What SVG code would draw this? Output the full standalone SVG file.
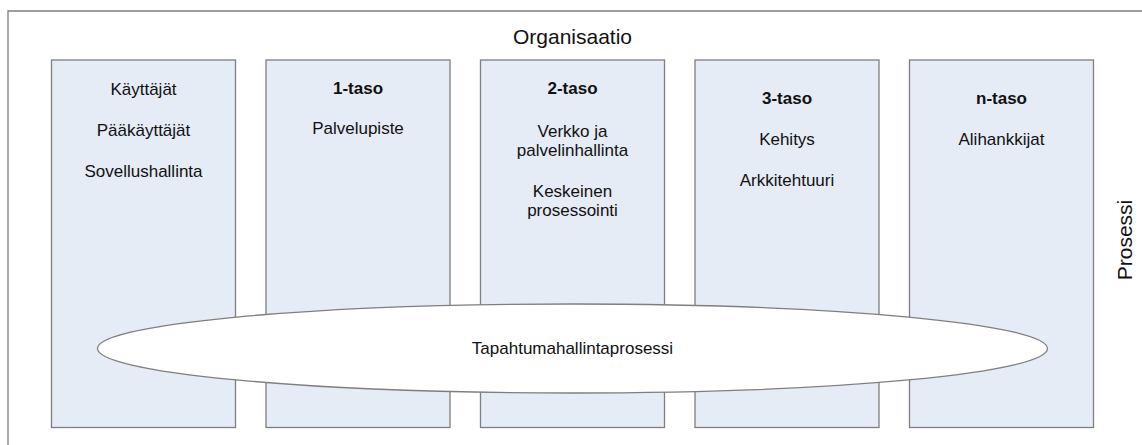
<svg xmlns="http://www.w3.org/2000/svg" width="1142" height="445" viewBox="0 0 1142 445">
  <style>
    .frame { fill: none; stroke: #808080; stroke-width: 1.3; }
    .col { fill: #e6ecf6; stroke: #7f7f7f; stroke-width: 1.3; }
    .oval { fill: #ffffff; stroke: #7f7f7f; stroke-width: 1.3; }
    text { font-family: "Liberation Sans", Arial, sans-serif; fill: #111111; text-anchor: middle; }
    .lbl { font-size: 17px; }
    .hd { font-size: 17px; font-weight: bold; }
    .big { font-size: 21px; }
  </style>

  <!-- outer frame: only left and top edges are drawn -->
  <path class="frame" d="M8,445 V11 H1142"/>

  <text id="title" class="big" x="572.5" y="44">Organisaatio</text>

  <g id="col-users">
    <rect class="col" x="51.5" y="60" width="184" height="367.5"/>
    <text class="lbl" x="143.5" y="95">Käyttäjät</text>
    <text class="lbl" x="143.5" y="136">Pääkäyttäjät</text>
    <text class="lbl" x="143.5" y="177">Sovellushallinta</text>
  </g>

  <g id="col-level1">
    <rect class="col" x="266" y="60" width="184" height="367.5"/>
    <text class="hd" x="358" y="94">1-taso</text>
    <text class="lbl" x="358" y="134">Palvelupiste</text>
  </g>

  <g id="col-level2">
    <rect class="col" x="480.5" y="60" width="184" height="367.5"/>
    <text class="hd" x="572.5" y="94">2-taso</text>
    <text class="lbl" x="572.5" y="137">Verkko ja</text>
    <text class="lbl" x="572.5" y="156">palvelinhallinta</text>
    <text class="lbl" x="572.5" y="197">Keskeinen</text>
    <text class="lbl" x="572.5" y="216">prosessointi</text>
  </g>

  <g id="col-level3">
    <rect class="col" x="695" y="60" width="184" height="367.5"/>
    <text class="hd" x="787" y="104">3-taso</text>
    <text class="lbl" x="787" y="145">Kehitys</text>
    <text class="lbl" x="787" y="186">Arkkitehtuuri</text>
  </g>

  <g id="col-leveln">
    <rect class="col" x="909.5" y="60" width="184" height="367.5"/>
    <text class="hd" x="1001.5" y="104">n-taso</text>
    <text class="lbl" x="1001.5" y="145">Alihankkijat</text>
  </g>

  <g id="process">
    <ellipse class="oval" cx="572.5" cy="348.5" rx="475" ry="44.5"/>
    <text class="lbl" x="572.5" y="354">Tapahtumahallintaprosessi</text>
  </g>

  <text id="side-label" class="big" transform="translate(1131.5,240) rotate(-90)" x="0" y="0">Prosessi</text>
</svg>
